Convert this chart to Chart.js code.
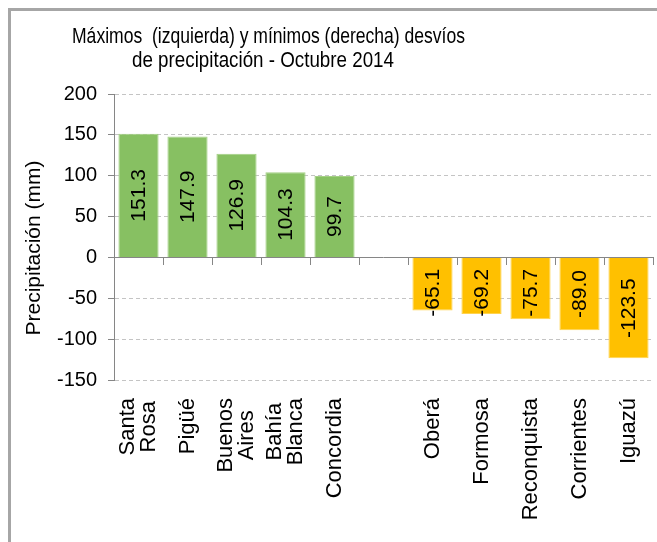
<!DOCTYPE html>
<html><head><meta charset="utf-8">
<script src="https://cdn.jsdelivr.net/npm/chart.js@4.4.0/dist/chart.umd.min.js"></script>
<style>html,body{margin:0;padding:0;background:#fff;} canvas{display:block;}</style>
</head><body>
<canvas id="c" width="657" height="542"></canvas>
<script>
const titleLines = ['Máximos  (izquierda) y mínimos (derecha) desvíos', 'de precipitación - Octubre 2014'];
const yAxisTitle = 'Precipitación (mm)';
const categories = [['Santa','Rosa'], ['Pigüé'], ['Buenos','Aires'], ['Bahía','Blanca'], ['Concordia'], [''], ['Oberá'], ['Formosa'], ['Reconquista'], ['Corrientes'], ['Iguazú']];
const maxValues = [151.3, 147.9, 126.9, 104.3, 99.7, null, null, null, null, null, null];
const minValues = [null, null, null, null, null, null, -65.1, -69.2, -75.7, -89.0, -123.5];
const yMin = -150, yMax = 200, yStep = 50;

const FONT = "'Liberation Sans', Arial, sans-serif";
const AXIS_GRAY = '#868686';

const customDraw = {
  id: 'customDraw',
  beforeDraw(chart) {
    const ctx = chart.ctx;
    ctx.save();
    ctx.fillStyle = '#ffffff';
    ctx.fillRect(0, 0, chart.width, chart.height);
    ctx.fillStyle = '#A6A6A6';
    ctx.fillRect(8, 8, chart.width - 8, 3);
    ctx.fillRect(8, 8, 3, chart.height - 8);
    ctx.restore();
  },
  afterDraw(chart) {
    const ctx = chart.ctx;
    const xs = chart.scales.x, ys = chart.scales.y;
    const area = chart.chartArea;
    const y0 = ys.getPixelForValue(0);
    ctx.save();
    // zero axis line
    ctx.strokeStyle = AXIS_GRAY;
    ctx.lineWidth = 1;
    ctx.setLineDash([]);
    ctx.beginPath();
    ctx.moveTo(area.left, Math.round(y0) + 0.5);
    ctx.lineTo(area.right, Math.round(y0) + 0.5);
    // category tick marks
    const n = categories.length;
    const cw = (xs.right - xs.left) / n;
    for (let i = 0; i <= n; i++) {
      const x = Math.round(xs.left + i * cw) + 0.5;
      ctx.moveTo(x, Math.round(y0));
      ctx.lineTo(x, Math.round(y0) + 8);
    }
    ctx.stroke();

    // category labels (rotated, lines centred)
    ctx.fillStyle = '#000';
    ctx.font = '22px ' + FONT;
    ctx.textAlign = 'center';
    ctx.textBaseline = 'middle';
    const lh = 20.5;
    categories.forEach((lines, i) => {
      const cx = xs.getPixelForValue(i);
      let mw = 0;
      lines.forEach(l => { mw = Math.max(mw, ctx.measureText(l).width); });
      const cy = 398 + mw / 2;
      ctx.save();
      ctx.translate(cx, cy);
      ctx.rotate(-Math.PI / 2);
      lines.forEach((l, j) => {
        ctx.fillText(l, 0, (j - (lines.length - 1) / 2) * lh);
      });
      ctx.restore();
    });

    // data labels
    ctx.font = '21px ' + FONT;
    chart.data.datasets.forEach((ds, di) => {
      const meta = chart.getDatasetMeta(di);
      meta.data.forEach((el, i) => {
        const v = ds.data[i];
        if (v === null || v === undefined) return;
        const txt = v.toFixed(1);
        const w = ctx.measureText(txt).width;
        const mid = (el.y + el.base) / 2;
        let cy;
        if (v >= 0) cy = Math.min(mid, el.base - 16 - w / 2);
        else cy = Math.max(mid, el.base + 11 + w / 2);
        ctx.save();
        ctx.translate(el.x + 1, cy);
        ctx.rotate(-Math.PI / 2);
        ctx.fillText(txt, 0, 0);
        ctx.restore();
      });
    });

    // y axis title
    ctx.font = '21px ' + FONT;
    ctx.save();
    ctx.translate(34, 248);
    ctx.rotate(-Math.PI / 2);
    ctx.fillText(yAxisTitle, 0, 0);
    ctx.restore();

    // chart title
    ctx.font = '22px ' + FONT;
    ctx.textBaseline = 'alphabetic';
    ctx.fillText(titleLines[0], 268.5, 43, 393);
    ctx.fillText(titleLines[1], 263, 67, 262);
    ctx.restore();
  }
};

new Chart(document.getElementById('c'), {
  type: 'bar',
  data: {
    labels: categories,
    datasets: [
      { label: 'Máximos', data: maxValues, backgroundColor: '#87C062', borderColor: '#A3D084', borderWidth: 1 },
      { label: 'Mínimos', data: minValues, backgroundColor: '#FFC000', borderColor: '#FFD34F', borderWidth: 1 }
    ]
  },
  options: {
    responsive: false,
    animation: false,
    devicePixelRatio: 1,
    layout: { padding: { top: 94, right: 4, bottom: 162, left: 0 } },
    plugins: { legend: { display: false }, title: { display: false }, tooltip: { enabled: false } },
    datasets: { bar: { barPercentage: 0.82, categoryPercentage: 1.0 } },
    scales: {
      x: { stacked: true, display: false, offset: true },
      y: {
        stacked: true,
        min: yMin, max: yMax,
        afterFit(scale) { scale.width = 114; },
        ticks: { stepSize: yStep, color: '#000', padding: 11, font: { size: 20, family: FONT } },
        grid: {
          color: c => (c.tick && c.tick.value === 0) ? 'rgba(0,0,0,0)' : '#C4C4C4',
          lineWidth: 1,
          tickLength: 6,
          tickColor: AXIS_GRAY,
          tickBorderDash: [],
          drawTicks: true
        },
        border: { display: true, color: AXIS_GRAY, width: 1, dash: [4, 3] }
      }
    }
  },
  plugins: [customDraw]
});
</script>
</body></html>
